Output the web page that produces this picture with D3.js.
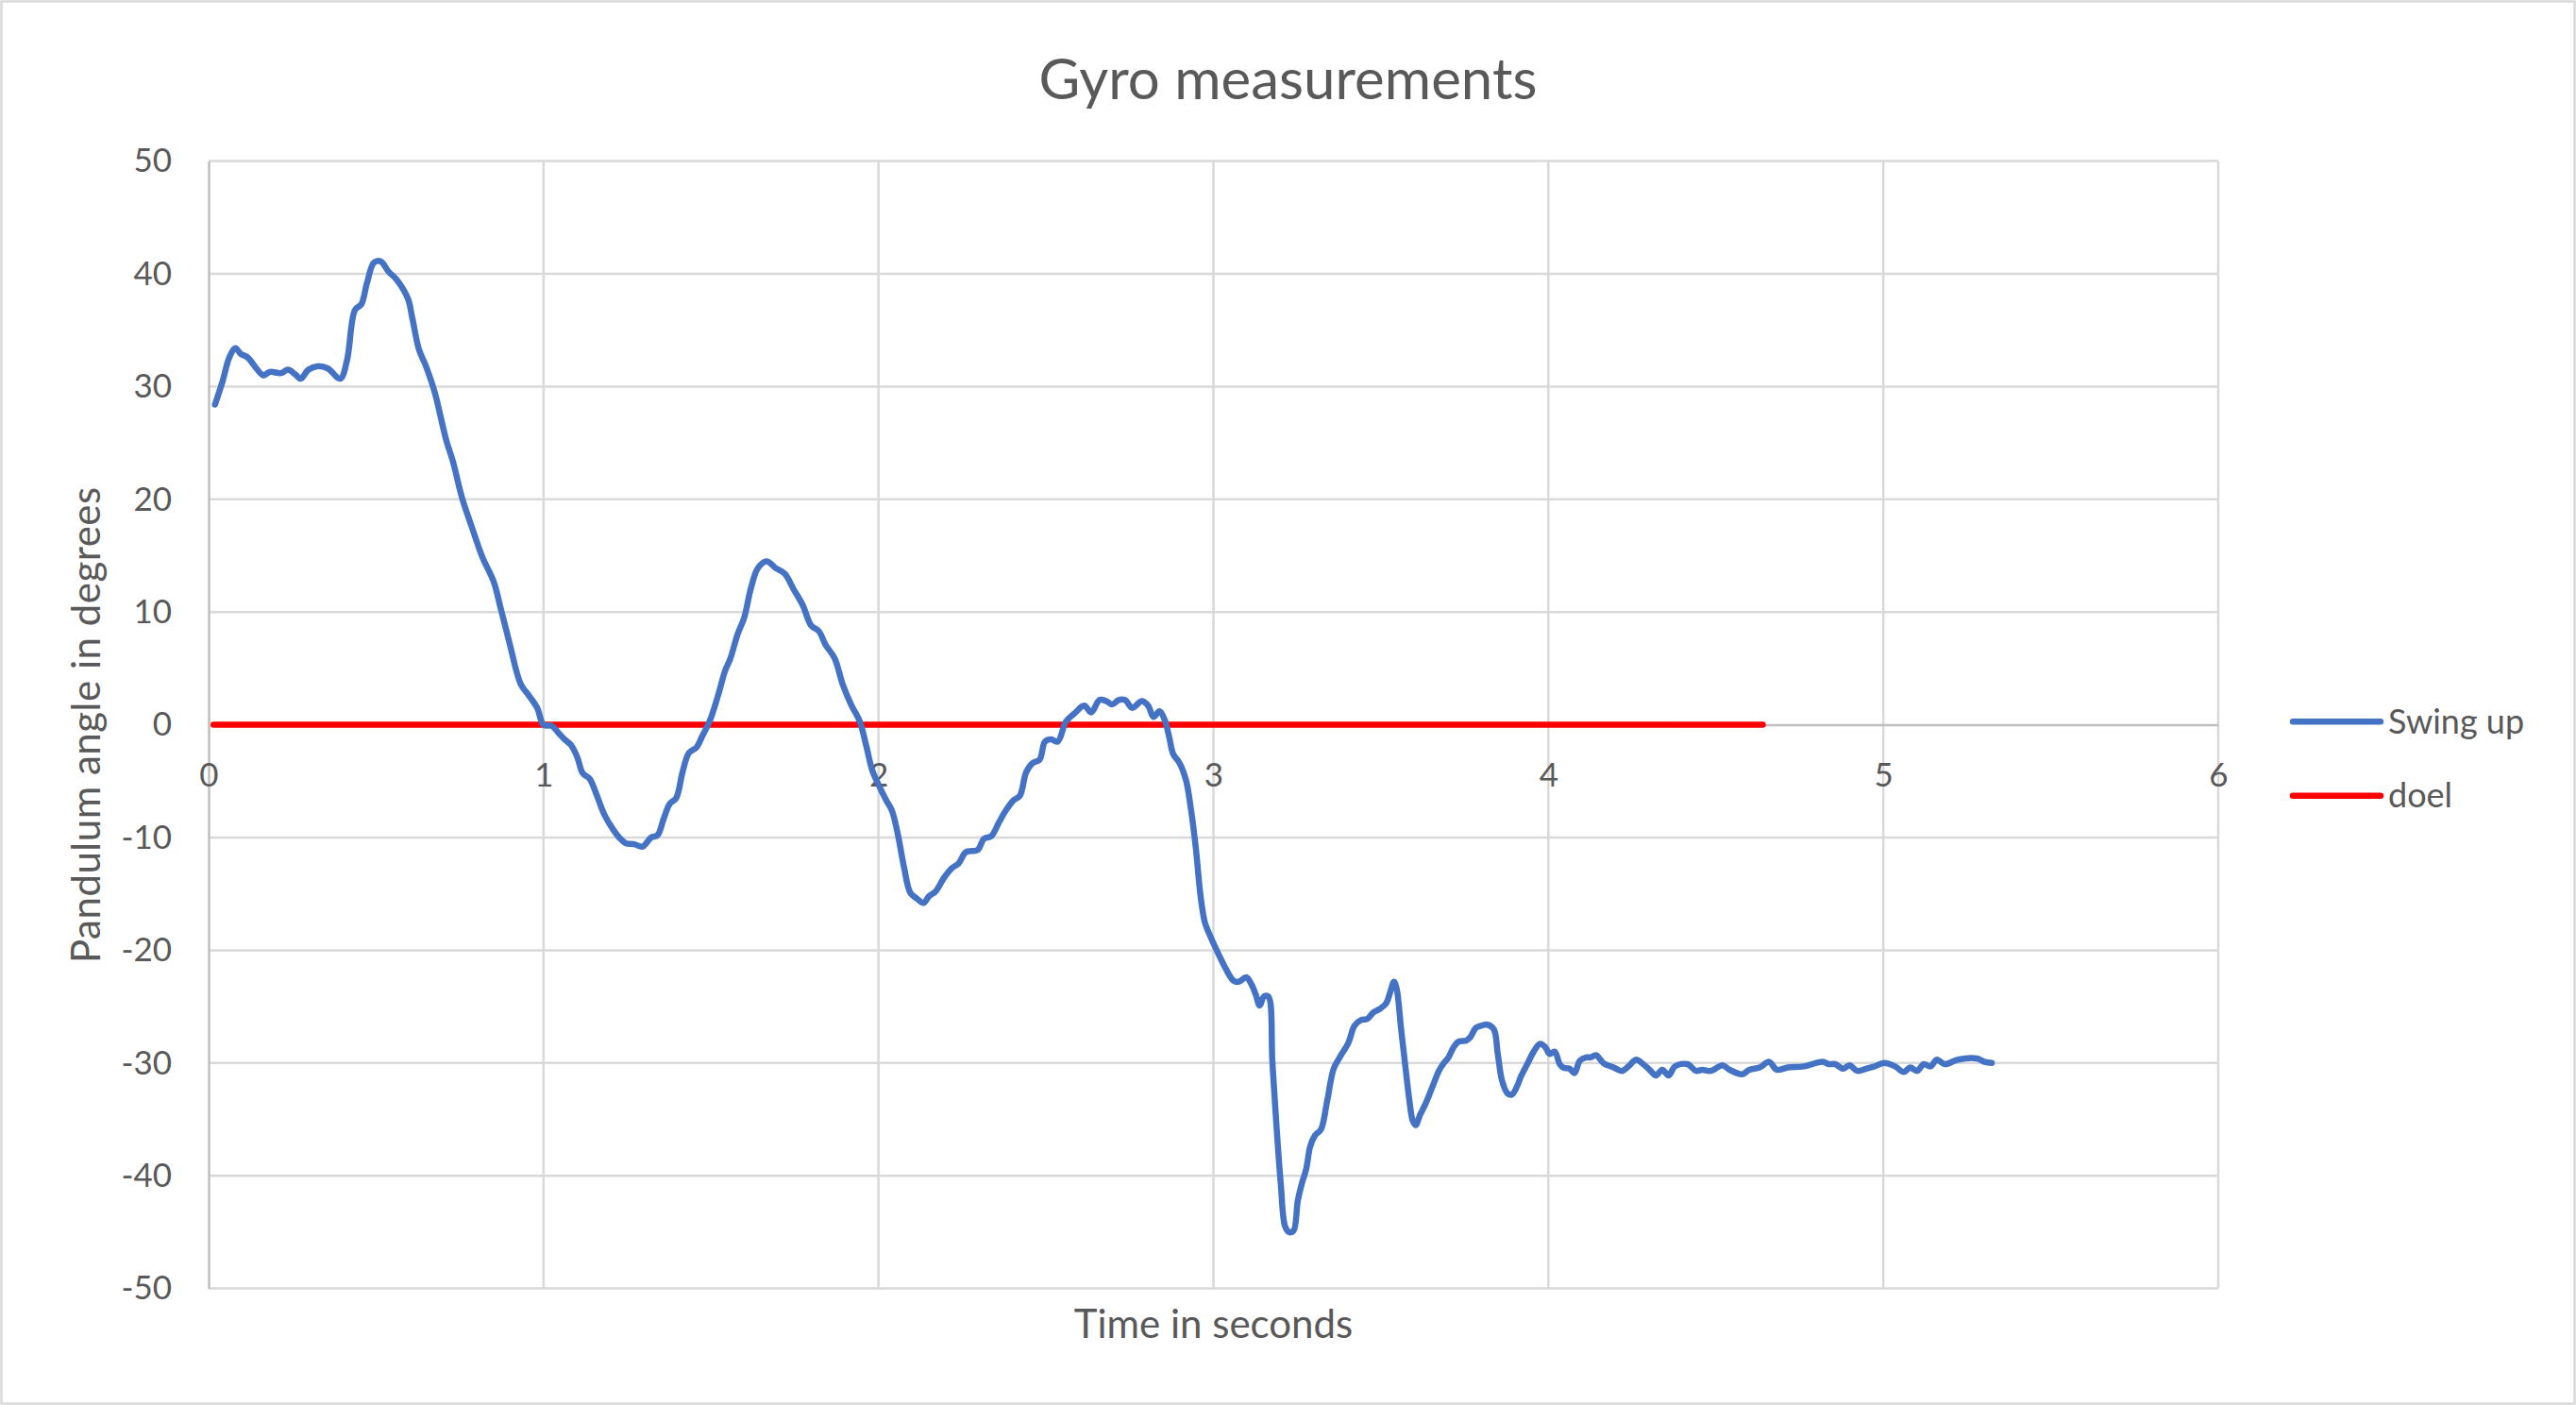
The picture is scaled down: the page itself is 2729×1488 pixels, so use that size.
<!DOCTYPE html>
<html lang="en">
    <head>
        <meta charset="utf-8">
        <style>
            body {
                margin: 0;
                background: white;
            }
            text {
                font-family: Lato, "Open Sans", sans-serif;
                fill: #595959;
            }
        </style>
    </head>
    <body>
        <script src="https://d3js.org/d3.v7.min.js"></script>
        <script>
//#begin data
var seriesNames = ["Swing up", "doel"];

var swingTime = [
0.019, 0.042, 0.062, 0.080, 0.096, 0.116, 0.143, 0.163, 0.183, 0.217,
0.237, 0.258, 0.275, 0.298, 0.325, 0.356, 0.393, 0.413, 0.437, 0.456,
0.473, 0.494, 0.514, 0.537, 0.561, 0.595, 0.608, 0.628, 0.649, 0.675,
0.709, 0.729, 0.757, 0.784, 0.817, 0.851, 0.874, 0.898, 0.932, 0.956,
0.981, 1.000, 1.025, 1.044, 1.063, 1.082, 1.101, 1.117, 1.138, 1.157,
1.182, 1.208, 1.226, 1.245, 1.271, 1.296, 1.321, 1.340, 1.359, 1.377,
1.396, 1.415, 1.434, 1.457, 1.474, 1.497, 1.522, 1.541, 1.558, 1.579,
1.599, 1.619, 1.640, 1.666, 1.693, 1.720, 1.747, 1.774, 1.799, 1.822,
1.842, 1.869, 1.893, 1.918, 1.944, 1.963, 1.981, 2.000, 2.023, 2.040,
2.057, 2.076, 2.095, 2.114, 2.135, 2.151, 2.170, 2.195, 2.220, 2.239,
2.261, 2.296, 2.315, 2.336, 2.359, 2.378, 2.403, 2.422, 2.441, 2.460,
2.481, 2.497, 2.516, 2.535, 2.560, 2.585, 2.614, 2.635, 2.660, 2.680,
2.698, 2.717, 2.736, 2.758, 2.786, 2.805, 2.821, 2.839, 2.855, 2.868,
2.880, 2.899, 2.918, 2.931, 2.947, 2.962, 2.975, 2.987, 3.013, 3.038,
3.060, 3.075, 3.098, 3.113, 3.126, 3.138, 3.151, 3.164, 3.176, 3.189,
3.201, 3.214, 3.226, 3.239, 3.252, 3.264, 3.277, 3.289, 3.304, 3.321,
3.340, 3.359, 3.377, 3.403, 3.421, 3.440, 3.459, 3.478, 3.497, 3.516,
3.528, 3.539, 3.547, 3.560, 3.573, 3.585, 3.595, 3.604, 3.617, 3.635,
3.654, 3.673, 3.686, 3.702, 3.717, 3.732, 3.755, 3.767, 3.783, 3.799,
3.818, 3.837, 3.849, 3.862, 3.878, 3.891, 3.906, 3.918, 3.937, 3.956,
3.975, 3.991, 4.004, 4.019, 4.034, 4.044, 4.063, 4.078, 4.094, 4.113,
4.126, 4.142, 4.164, 4.195, 4.220, 4.239, 4.262, 4.283, 4.302, 4.321,
4.340, 4.359, 4.378, 4.415, 4.441, 4.459, 4.485, 4.520, 4.541, 4.579,
4.600, 4.631, 4.659, 4.682, 4.715, 4.762, 4.819, 4.837, 4.856, 4.880,
4.899, 4.922, 4.950, 4.974, 5.002, 5.035, 5.061, 5.080, 5.101, 5.121,
5.141, 5.160, 5.183, 5.223, 5.279, 5.303, 5.324
];

var swingAngle = [
28.4, 30.5, 32.6, 33.4, 32.9, 32.6, 31.6, 31.0, 31.3, 31.2,
31.5, 31.1, 30.7, 31.5, 31.8, 31.6, 30.7, 32.3, 36.8, 37.3,
39.2, 41.0, 41.1, 40.2, 39.5, 37.8, 36.1, 33.3, 31.8, 29.5,
25.3, 23.4, 20.1, 17.7, 14.9, 12.7, 10.1, 7.3, 3.6, 2.6,
1.5, 0.0, -0.1, -0.7, -1.3, -1.8, -2.9, -4.3, -4.8, -6.1,
-8.0, -9.3, -10.0, -10.5, -10.6, -10.8, -10.0, -9.8, -8.3, -7.0,
-6.5, -4.2, -2.5, -2.0, -1.0, 0.4, 2.7, 4.7, 5.9, 8.0,
9.5, 12.1, 13.9, 14.5, 13.9, 13.4, 12.0, 10.6, 8.8, 8.3,
7.1, 5.9, 3.6, 1.8, 0.3, -1.8, -4.0, -5.3, -6.7, -7.6,
-9.6, -12.6, -14.9, -15.4, -15.8, -15.2, -14.8, -13.6, -12.7, -12.3,
-11.3, -11.1, -10.1, -9.9, -8.7, -7.7, -6.7, -6.3, -4.2, -3.4,
-3.1, -1.5, -1.3, -1.5, 0.3, 1.0, 1.7, 1.1, 2.2, 2.1,
1.8, 2.2, 2.2, 1.5, 2.1, 1.7, 0.7, 1.2, 0.4, -1.1,
-2.6, -3.4, -4.9, -7.1, -10.8, -15.3, -17.6, -18.5, -20.2, -21.7,
-22.7, -22.8, -22.4, -23.0, -23.9, -24.9, -24.1, -24.1, -29.9, -35.9,
-40.7, -44.5, -45.0, -44.9, -42.2, -40.7, -39.4, -37.4, -36.4, -35.9,
-33.3, -30.5, -29.5, -28.2, -26.7, -26.2, -26.1, -25.5, -25.2, -24.7,
-23.7, -22.8, -23.4, -26.9, -30.3, -33.3, -35.1, -35.5, -34.6, -33.5,
-32.1, -30.7, -30.1, -29.5, -28.6, -28.1, -28.0, -27.7, -26.9, -26.7,
-26.6, -27.0, -29.2, -31.6, -32.7, -32.8, -32.1, -31.2, -30.1, -29.0,
-28.3, -28.6, -29.2, -29.0, -30.1, -30.4, -30.5, -30.9, -29.8, -29.5,
-29.5, -29.3, -30.0, -30.4, -30.7, -30.3, -29.7, -30.1, -30.6, -31.1,
-30.6, -31.1, -30.3, -30.1, -30.7, -30.6, -30.7, -30.2, -30.6, -31.0,
-30.6, -30.4, -29.9, -30.6, -30.4, -30.3, -29.9, -30.1, -30.1, -30.5,
-30.2, -30.7, -30.5, -30.3, -30.0, -30.3, -30.8, -30.4, -30.7, -30.1,
-30.3, -29.7, -30.1, -29.7, -29.6, -29.9, -30.0
];

var doelTime = [0.015, 4.64];
var doelAngle = [0, 0];

var xTicks = [0, 1, 2, 3, 4, 5, 6];
var yTicks = [-50, -40, -30, -20, -10, 0, 10, 20, 30, 40, 50];
//#end data

var W = 2729, H = 1488;
var plot = {left: 221, right: 2350, top: 170.6, bottom: 1364.6};
var gridColor = "#d9d9d9";
var axisColor = "#bfbfbf";
var colors = ["#4472c4", "#ff0000"];
var lineWidth = 6.5;

var svg = d3.select('body').append('svg')
.attr("width", W)
.attr("height", H);

// outer chart border
svg.append("rect")
.attr("x", 1.5).attr("y", 1.5)
.attr("width", W - 3).attr("height", H - 3)
.attr("fill", "white")
.attr("stroke", gridColor)
.attr("stroke-width", 2.5);

var x = d3.scaleLinear().domain([0, 6]).range([plot.left, plot.right]);
var y = d3.scaleLinear().domain([-50, 50]).range([plot.bottom, plot.top]);

// gridlines
svg.append("g").selectAll("line")
.data(yTicks.filter(function(d){ return d !== 0; }))
.enter().append("line")
.attr("x1", x(0)).attr("x2", x(6))
.attr("y1", function(d){ return y(d); })
.attr("y2", function(d){ return y(d); })
.attr("stroke", gridColor)
.attr("stroke-width", 2.5);

svg.append("g").selectAll("line")
.data(xTicks.slice(1))
.enter().append("line")
.attr("y1", y(-50)).attr("y2", y(50))
.attr("x1", function(d){ return x(d); })
.attr("x2", function(d){ return x(d); })
.attr("stroke", gridColor)
.attr("stroke-width", 2.5);

// axes
var yAxis = svg.append("g")
.attr("transform", "translate(" + x(0) + ",0)")
.call(d3.axisLeft(y).tickValues(yTicks).tickSize(0).tickPadding(39)
	.tickFormat(function(d){ return String(d); }));
yAxis.select(".domain").attr("stroke", axisColor).attr("stroke-width", 2.5);
yAxis.selectAll("text").style("font-size", "35px").attr("fill", "#595959");

var xAxis = svg.append("g")
.attr("transform", "translate(0," + y(0) + ")")
.call(d3.axisBottom(x).tickValues(xTicks).tickSize(0).tickPadding(41)
	.tickFormat(function(d){ return String(d); }));
xAxis.select(".domain").attr("stroke", axisColor).attr("stroke-width", 2.5);
xAxis.selectAll("text").style("font-size", "35px").attr("fill", "#595959");

// series
var swing = swingTime.map(function(t, i){ return [t, swingAngle[i]]; });
var doel = doelTime.map(function(t, i){ return [t, doelAngle[i]]; });

var line = d3.line()
.x(function(d){ return x(d[0]); })
.y(function(d){ return y(d[1]); })
.curve(d3.curveCatmullRom.alpha(0.5));

svg.append("path")
.datum(doel)
.attr("d", line)
.attr("fill", "none")
.attr("stroke", colors[1])
.attr("stroke-width", lineWidth)
.attr("stroke-linecap", "round");

svg.append("path")
.datum(swing)
.attr("d", line)
.attr("fill", "none")
.attr("stroke", colors[0])
.attr("stroke-width", lineWidth)
.attr("stroke-linecap", "round")
.attr("stroke-linejoin", "round");

// titles
svg.append("text")
.attr("x", W / 2).attr("y", 105)
.attr("text-anchor", "middle")
.style("font-size", "60px")
.text("Gyro measurements");

svg.append("text")
.attr("x", (plot.left + plot.right) / 2).attr("y", 1417)
.attr("text-anchor", "middle")
.style("font-size", "42px")
.text("Time in seconds");

svg.append("text")
.attr("transform", "translate(106," + y(0) + ") rotate(-90)")
.attr("text-anchor", "middle")
.style("font-size", "42px")
.style("letter-spacing", "0.5px")
.text("Pandulum angle in degrees");

// legend
var legend = svg.append("g").selectAll("g")
.data(seriesNames)
.enter().append("g")
.attr("transform", function(d, i){ return "translate(2429," + (764.3 + i * 78.4) + ")"; });

legend.append("line")
.attr("x1", 0).attr("x2", 93)
.attr("stroke", function(d, i){ return colors[i]; })
.attr("stroke-width", lineWidth)
.attr("stroke-linecap", "round");

legend.append("text")
.attr("x", 101).attr("y", 12.5)
.style("font-size", "36px")
.text(function(d){ return d; });

        </script>
    </body>
</html>
